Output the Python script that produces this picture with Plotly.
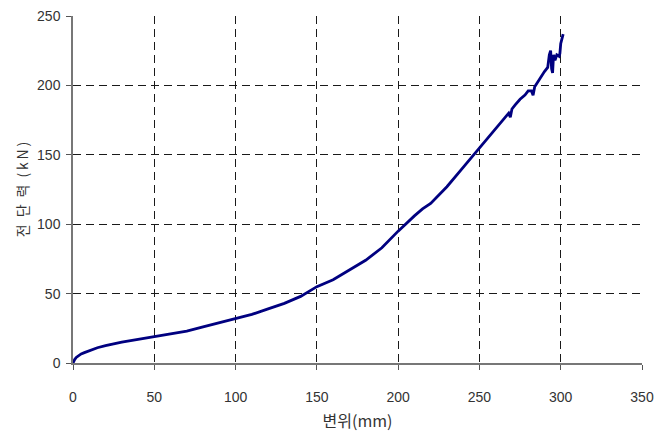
import plotly.graph_objects as go

disp = [0, 0.5, 1, 2, 3, 5, 7, 10, 15, 20, 25, 30, 40, 50, 60, 70, 80, 90, 100, 110, 120, 130,
        140, 150, 160, 170, 180, 190, 200, 210, 215, 220, 230, 240, 250, 255, 260, 265, 268,
        269, 270, 272, 275, 278, 280, 282, 283, 284, 286, 288, 290, 292, 293, 293.8, 294.4,
        295, 295.6, 296.5, 297.6, 299, 299.5, 300, 300.8, 301.5]
force = [0, 1.5, 2.5, 4, 5, 6.5, 7.5, 9, 11, 12.5, 14, 15, 17, 19, 21, 23, 26, 29, 32, 35, 39,
         43, 48, 55, 60, 67, 74, 83, 95, 106, 111, 115, 127, 141, 155, 162, 169, 176, 180, 177,
         183, 186, 190, 193, 196, 196, 193, 199, 203, 207, 210, 213, 222, 225, 212, 209, 222,
         218, 222, 221, 223, 230, 234, 237]

x_ticks = [0, 50, 100, 150, 200, 250, 300, 350]
y_ticks = [0, 50, 100, 150, 200, 250]

fig = go.Figure()
fig.add_trace(go.Scatter(x=disp, y=force, mode="lines",
                         line=dict(color="#000080", width=2.8), showlegend=False))

num_font = "Liberation Sans, Arial, sans-serif"
kr_font = "Noto Sans CJK KR, DejaVu Sans, sans-serif"
axis_common = dict(
    showgrid=True, gridcolor="#1a1a1a", gridwidth=1, griddash="8px,5px",
    showline=True, linecolor="#777777", linewidth=1.5,
    ticks="outside", ticklen=5, tickcolor="#555555", tickwidth=1,
    zeroline=False, automargin=False,
    tickfont=dict(family=num_font, size=14, color="#333333"),
)

fig.update_layout(
    width=671, height=432,
    margin=dict(l=73, r=29, t=16, b=69),
    paper_bgcolor="white", plot_bgcolor="white",
    font=dict(family=kr_font, color="#333333"),
    xaxis=dict(range=[0, 350], tickvals=x_ticks, ticklabelstandoff=15,
               title=dict(text="변위(mm)", font=dict(family=kr_font, size=16, color="#333333"), standoff=17),
               **axis_common),
    yaxis=dict(range=[0, 250], tickvals=y_ticks, ticklabelstandoff=3,
               title=dict(text="전\u2002단\u2002력\u2002(\u2009k\u2009N\u2009)", font=dict(family=kr_font, size=14, color="#333333"), standoff=5),
               **axis_common),
)

fig.write_html("out.html")
